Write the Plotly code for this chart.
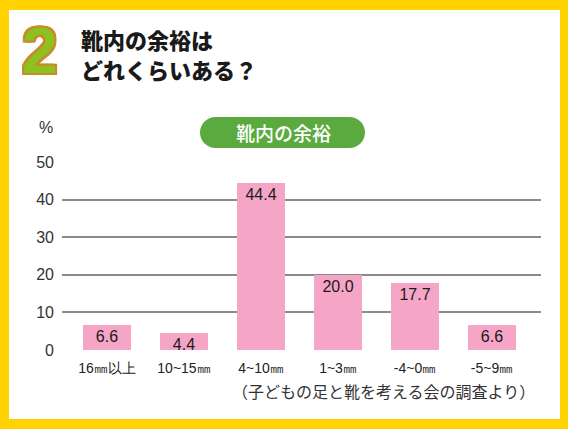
import plotly.graph_objects as go

categories = ["16㎜以上", "10~15㎜", "4~10㎜", "1~3㎜", "-4~0㎜", "-5~9㎜"]
values = [6.6, 4.4, 44.4, 20.0, 17.7, 6.6]
y_ticks = [0, 10, 20, 30, 40, 50]

W, H = 568, 429
L, R, T, B = 62, 541, 162, 350  # plot area in pixels


def px(x):
    return (x - L) / (R - L)


def py(y):
    return (B - y) / (B - T)


fig = go.Figure()
fig.add_trace(go.Bar(
    x=list(range(len(categories))), y=values,
    width=0.63,
    marker=dict(color="#F5A5C6", line=dict(width=0)),
    texttemplate="%{y:.1f}", textposition="inside", insidetextanchor="end",
    constraintext="none", cliponaxis=False,
    textfont=dict(family="Liberation Sans, Arial, sans-serif", size=16, color="#1a1a1a"),
    hoverinfo="skip",
))

# rounded pill path
def pill(x0, y0, x1, y1):
    r = (y1 - y0) / 2
    k = 0.5523 * r
    d = f"M {px(x0 + r)},{py(y0)} L {px(x1 - r)},{py(y0)} "
    d += f"C {px(x1 - r + k)},{py(y0)} {px(x1)},{py(y0 + r - k)} {px(x1)},{py(y0 + r)} "
    d += f"C {px(x1)},{py(y1 - r + k)} {px(x1 - r + k)},{py(y1)} {px(x1 - r)},{py(y1)} "
    d += f"L {px(x0 + r)},{py(y1)} "
    d += f"C {px(x0 + r - k)},{py(y1)} {px(x0)},{py(y1 - r + k)} {px(x0)},{py(y0 + r)} "
    d += f"C {px(x0)},{py(y0 + r - k)} {px(x0 + r - k)},{py(y0)} {px(x0 + r)},{py(y0)} Z"
    return d


shapes = [
    dict(type="rect", xref="paper", yref="paper", x0=px(9), x1=px(560), y0=py(10), y1=py(419),
         fillcolor="white", line=dict(width=0), layer="below"),
    dict(type="path", xref="paper", yref="paper", path=pill(200, 117, 365, 148),
         fillcolor="#5BAA40", line=dict(width=0), layer="above"),
]

jp = "Noto Sans CJK JP, sans-serif"
oc = "#C98A2A"
outline = ", ".join(f"{a}px {b}px 0 {oc}" for a, b in
                    [(2, 0), (-2, 0), (0, 2), (0, -2), (2, 2), (-2, -2), (2, -2), (-2, 2)])
annotations = [
    dict(text="<b>2</b>", x=px(40), y=py(51), xref="paper", yref="paper", showarrow=False,
         xanchor="center", yanchor="middle",
         font=dict(family="Liberation Sans, Arial, sans-serif", size=64, color="#8CC21F",
                   shadow=outline)),
    dict(text="靴内の余裕は", x=px(79), y=py(39), xref="paper", yref="paper", showarrow=False,
         xanchor="left", yanchor="middle", font=dict(family=jp, size=22, color="#1a1a1a", weight=900)),
    dict(text="どれくらいある？", x=px(79), y=py(69), xref="paper", yref="paper", showarrow=False,
         xanchor="left", yanchor="middle", font=dict(family=jp, size=22, color="#1a1a1a", weight=900)),
    dict(text="靴内の余裕", x=px(283), y=py(132), xref="paper", yref="paper", showarrow=False,
         xanchor="center", yanchor="middle", font=dict(family=jp, size=19, color="white", weight=500)),
    dict(text="%", x=px(46), y=py(128), xref="paper", yref="paper", showarrow=False,
         xanchor="center", yanchor="middle",
         font=dict(family="Liberation Sans, Arial, sans-serif", size=16, color="#333")),
    dict(text="（子どもの足と靴を考える会の調査より）", x=px(537), y=py(391), xref="paper", yref="paper",
         showarrow=False, xanchor="right", yanchor="middle",
         font=dict(family=jp, size=16, color="#333")),
]

fig.update_layout(
    width=W, height=H,
    margin=dict(l=L, r=W - R, t=T, b=H - B, pad=0),
    paper_bgcolor="#FFD200", plot_bgcolor="white",
    showlegend=False, bargap=0,
    shapes=shapes, annotations=annotations,
    xaxis=dict(range=[-0.584, 5.636], tickmode="array", tickvals=list(range(len(categories))),
               ticktext=categories, showgrid=False, zeroline=False, showline=False, ticks="",
               ticklabelstandoff=8,
               tickfont=dict(family="Liberation Sans Narrow, Arial Narrow, sans-serif", size=14, color="#222"),
               fixedrange=True),
    yaxis=dict(range=[0, 50], tickmode="array", tickvals=y_ticks, showgrid=True,
               gridcolor="#8a8a8a", gridwidth=1.5, zeroline=False, showline=False, ticks="",
               ticklabelstandoff=7,
               tickfont=dict(family="Liberation Sans, Arial, sans-serif", size=16, color="#333"),
               fixedrange=True),
)

fig.write_html("out.html")
